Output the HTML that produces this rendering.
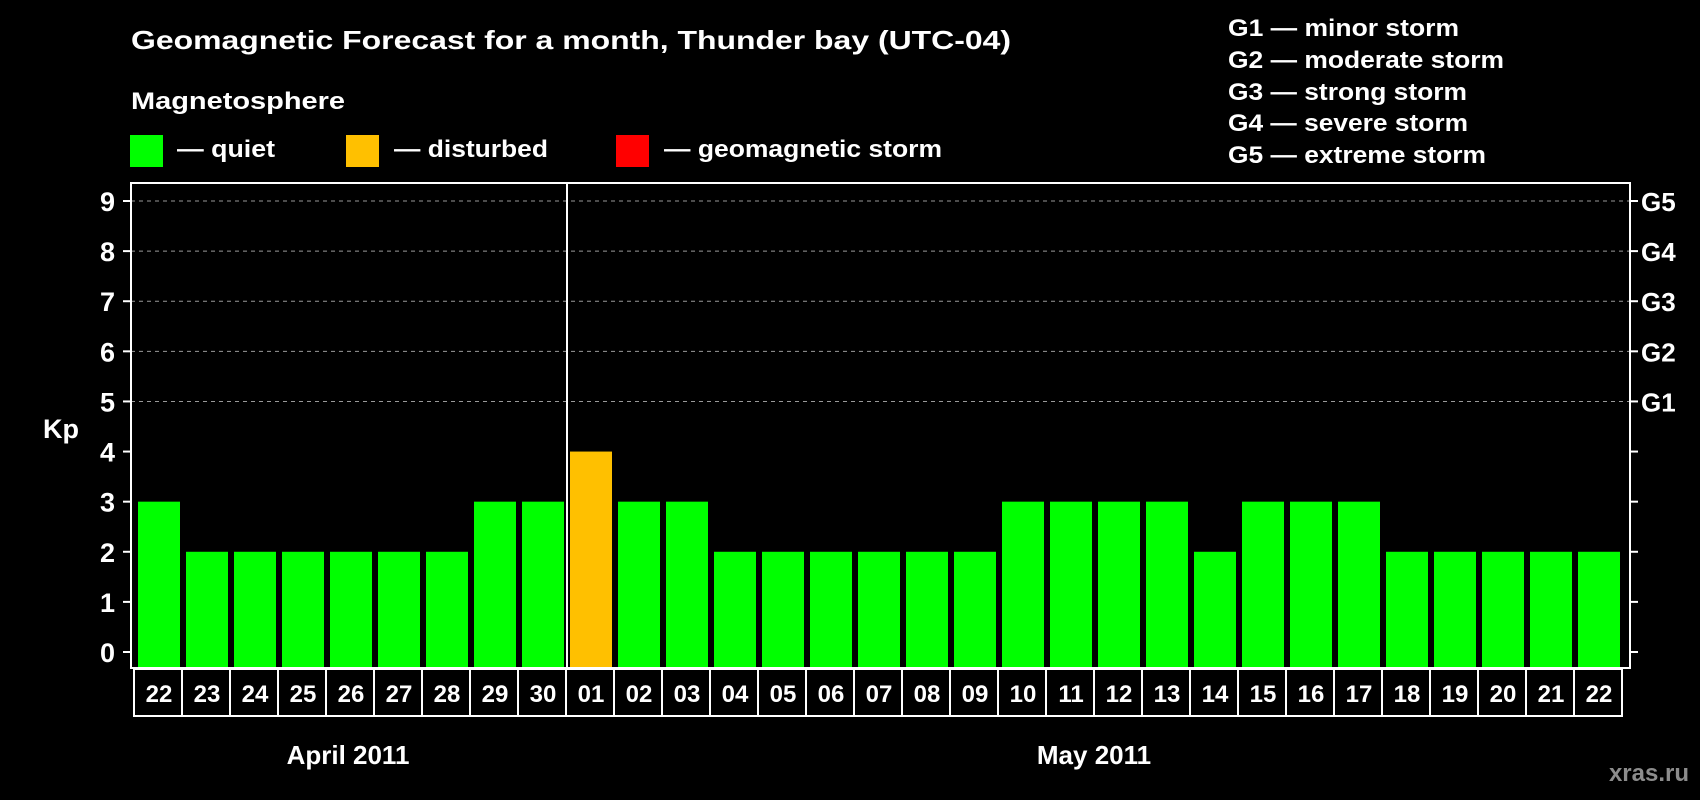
<!DOCTYPE html>
<html><head><meta charset="utf-8"><style>
html,body{margin:0;padding:0;background:#000;width:1700px;height:800px;overflow:hidden}
svg{display:block;font-family:"Liberation Sans",Arial,sans-serif;font-weight:bold}
</style></head><body>
<svg id="chart" width="1700" height="800" viewBox="0 0 1700 800">
<text x="131" y="49" fill="#fff" font-size="26" textLength="880" lengthAdjust="spacingAndGlyphs">Geomagnetic Forecast for a month, Thunder bay (UTC-04)</text>
<text x="131" y="109" fill="#fff" font-size="24" textLength="214" lengthAdjust="spacingAndGlyphs">Magnetosphere</text>
<rect x="130" y="135" width="33" height="32" fill="#00ff00"/>
<text x="177" y="157" fill="#fff" font-size="24" textLength="98" lengthAdjust="spacingAndGlyphs">— quiet</text>
<rect x="346" y="135" width="33" height="32" fill="#ffc000"/>
<text x="394" y="157" fill="#fff" font-size="24" textLength="154" lengthAdjust="spacingAndGlyphs">— disturbed</text>
<rect x="616" y="135" width="33" height="32" fill="#ff0000"/>
<text x="664" y="157" fill="#fff" font-size="24" textLength="278" lengthAdjust="spacingAndGlyphs">— geomagnetic storm</text>
<g fill="#fff" font-size="24">
<text x="1228" y="36" textLength="231" lengthAdjust="spacingAndGlyphs">G1 — minor storm</text>
<text x="1228" y="68" textLength="276" lengthAdjust="spacingAndGlyphs">G2 — moderate storm</text>
<text x="1228" y="100" textLength="239" lengthAdjust="spacingAndGlyphs">G3 — strong storm</text>
<text x="1228" y="131" textLength="240" lengthAdjust="spacingAndGlyphs">G4 — severe storm</text>
<text x="1228" y="163" textLength="258" lengthAdjust="spacingAndGlyphs">G5 — extreme storm</text>
</g>
<g id="grid"></g>
<g id="bars"></g>
<g id="axes"></g>
<text x="43" y="438" fill="#fff" font-size="27">Kp</text>
<text x="348" y="764" fill="#fff" font-size="26" text-anchor="middle">April 2011</text>
<text x="1094" y="764" fill="#fff" font-size="26" text-anchor="middle">May 2011</text>
<text x="1689" y="781" fill="#8c8c8c" font-size="24" text-anchor="end">xras.ru</text>
</svg>
<script>
const days = ["22","23","24","25","26","27","28","29","30","01","02","03","04","05","06","07","08","09","10","11","12","13","14","15","16","17","18","19","20","21","22"];
const kpValues = [3,2,2,2,2,2,2,3,3,4,3,3,2,2,2,2,2,2,3,3,3,3,2,3,3,3,2,2,2,2,2];
const yTicks = [0,1,2,3,4,5,6,7,8,9];
const gLabels = ["G1","G2","G3","G4","G5"];
const monthBreakIndex = 9;

const NS = "http://www.w3.org/2000/svg";
const L = 131, R = 1630, T = 183, B = 668;
const Y0 = 652, Y9 = 201;
const x0 = 138, pitch = 48, bw = 42;
const y = v => Y0 - (Y0 - Y9) * v / 9;
const xb = i => x0 + i * pitch;
function mk(tag, attrs, parent){const e=document.createElementNS(NS,tag);for(const k in attrs)e.setAttribute(k,attrs[k]);parent.appendChild(e);return e;}
const grid=document.getElementById('grid'),bars=document.getElementById('bars'),axes=document.getElementById('axes');

yTicks.forEach(v=>{
  if(v>=5){
    const g=mk('line',{x1:L,x2:R,y1:y(v),y2:y(v),stroke:'#999','stroke-width':1,'stroke-dasharray':'4,4'},grid);
    
    
  }
  const tl=mk('line',{x1:L-8,x2:L,y1:y(v),y2:y(v),stroke:'#fff','stroke-width':2},axes);
  
  
  const tr=mk('line',{x1:R,x2:R+8,y1:y(v),y2:y(v),stroke:'#fff','stroke-width':2},axes);
  
  
  const t=mk('text',{x:115,y:y(v)+10,fill:'#fff','font-size':27,'text-anchor':'end'},axes);
  t.textContent=v;
  
  
});
gLabels.forEach((g,i)=>{
  const t=mk('text',{x:1641,y:y(5+i)+10,fill:'#fff','font-size':26},axes);
  t.textContent=g;
  
  
});
kpValues.forEach((v,i)=>{
  const col = v>=5?'#ff0000':(v>=4?'#ffc000':'#00ff00');
  const r=mk('rect',{x:xb(i),y:y(v),width:bw,height:B-y(v),fill:col},bars);
  
  
  const bx=mk('rect',{x:xb(i)-4,y:B+1,width:pitch,height:47,fill:'none',stroke:'#fff','stroke-width':2},axes);
  
  
  const t=mk('text',{x:xb(i)+bw/2,y:B+34,fill:'#fff','font-size':24,'text-anchor':'middle'},axes);
  t.textContent=days[i];
  
  
});
const fr=mk('rect',{x:L,y:T,width:R-L,height:B-T,fill:'none',stroke:'#fff','stroke-width':2},axes);


const mx=xb(monthBreakIndex)-3;
const ml=mk('line',{x1:mx,x2:mx,y1:T,y2:B,stroke:'#fff','stroke-width':2},axes);


</script>
</body></html>
